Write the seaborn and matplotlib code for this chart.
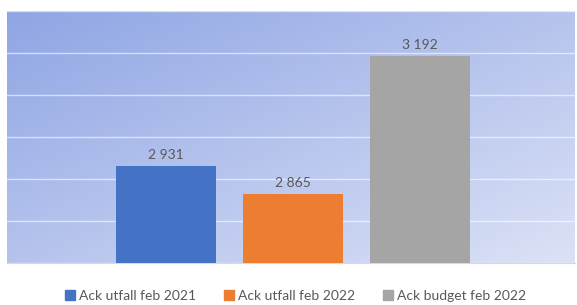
import numpy as np
import pandas as pd
import matplotlib
matplotlib.use('Agg')
import matplotlib.pyplot as plt
import seaborn as sns

# Data
series = ['Ack utfall feb 2021', 'Ack utfall feb 2022', 'Ack budget feb 2022']
values = [2931, 2865, 3192]
colors = ['#4472C4', '#ED7D31', '#A5A5A5']
labels = ['2 931', '2 865', '3 192']

df = pd.DataFrame({'serie': series, 'varde': values})

sns.set_style('white')
plt.rcParams['font.family'] = ['Lato', 'DejaVu Sans']

fig = plt.figure(figsize=(5.77, 3.05), dpi=100)
ax = fig.add_axes([7 / 577, 1 - 263 / 305, 568 / 577, 252 / 305])

# diagonal gradient background, darker top-left to lighter bottom-right
n = 200
gx, gy = np.meshgrid(np.linspace(0, 1, n), np.linspace(0, 1, n))
t = (gx + gy) / 2
c0 = np.array([143, 165, 228]) / 255
c1 = np.array([220, 226, 246]) / 255
grad = c0[None, None, :] * (1 - t[..., None]) + c1[None, None, :] * t[..., None]
ax.imshow(grad, extent=[0, 1, 0, 1], origin='upper', transform=ax.transAxes,
          aspect='auto', zorder=0)

sns.barplot(data=df, x='serie', y='varde', hue='serie', palette=colors,
            width=0.787, dodge=False, legend=False, ax=ax, zorder=3, saturation=1,
            linewidth=0, edgecolor='none')

ax.set_ylim(2700, 3300)
ax.set_xlim(-1.256, 3.224)
ax.set_yticks(np.arange(2700, 3301, 100))
ax.yaxis.grid(True, color='white', alpha=0.6, linewidth=1.0, zorder=1)
ax.set_axisbelow(True)
ax.set_xticks([])
ax.set_yticklabels([])
ax.tick_params(left=False, bottom=False)
ax.set_xlabel('')
ax.set_ylabel('')
for s in ['top', 'right', 'left']:
    ax.spines[s].set_visible(False)
ax.spines['bottom'].set_color('#d9d9d9')

for i, (v, lab) in enumerate(zip(values, labels)):
    ax.text(i, v + 12, lab, ha='center', va='bottom', fontsize=10, color='#595959')

handles = [plt.Rectangle((0, 0), 1, 1, color=c) for c in colors]
fig.legend(handles, series, loc='center', bbox_to_anchor=(0.5 + 7 / 577, 1 - 296 / 305), ncol=3,
           frameon=False, fontsize=10, labelcolor='#595959', handlelength=0.7,
           handleheight=0.7, handletextpad=0.3, columnspacing=2.0)

fig.savefig('out.png', dpi=100)
